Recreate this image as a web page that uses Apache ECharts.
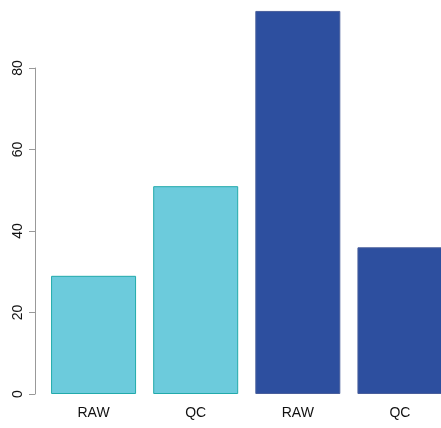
<!DOCTYPE html>
<html>
<head>
<meta charset="utf-8">
<script src="https://cdn.jsdelivr.net/npm/echarts@6/dist/echarts.min.js"></script>
<style>html,body{margin:0;padding:0;background:#fff;overflow:hidden;width:441px;height:428px}#c{width:451px;height:428px}</style>
</head>
<body>
<div id="c"></div>
<script>
var categories = ['RAW', 'QC', 'RAW', 'QC'];
var values = [29, 51, 94, 36];
var yTicks = [0, 20, 40, 60, 80];

var fills = ['#6ccbdc', '#6ccbdc', '#2d4f9f', '#2d4f9f'];
var borders = ['#22aaab', '#22aaab', '#4a5f9c', '#4a5f9c'];

var chart = echarts.init(document.getElementById('c'), null, {renderer: 'canvas'});
chart.setOption({
  animation: false,
  backgroundColor: '#ffffff',
  grid: {left: 42.5, right: 0, top: 68, bottom: 34, containLabel: false},
  xAxis: {
    type: 'category',
    data: categories,
    axisLine: {show: false},
    axisTick: {show: false},
    axisLabel: {color: '#111', fontSize: 14, fontFamily: 'Liberation Sans, Arial, sans-serif', margin: 12}
  },
  yAxis: {
    type: 'value',
    min: yTicks[0],
    max: yTicks[yTicks.length - 1],
    interval: 20,
    offset: 7.5,
    splitLine: {show: false},
    axisLine: {show: true, lineStyle: {color: '#999', width: 1}},
    axisTick: {show: true, length: 6, lineStyle: {color: '#999'}},
    axisLabel: {color: '#111', fontSize: 14, fontFamily: 'Liberation Sans, Arial, sans-serif', rotate: 90, margin: 10}
  },
  series: [{
    type: 'bar',
    clip: false,
    barWidth: 85,
    data: values.map(function (v, i) {
      return {value: v, itemStyle: {color: fills[i], borderColor: borders[i], borderWidth: 1}};
    })
  }]
});
</script>
</body>
</html>
